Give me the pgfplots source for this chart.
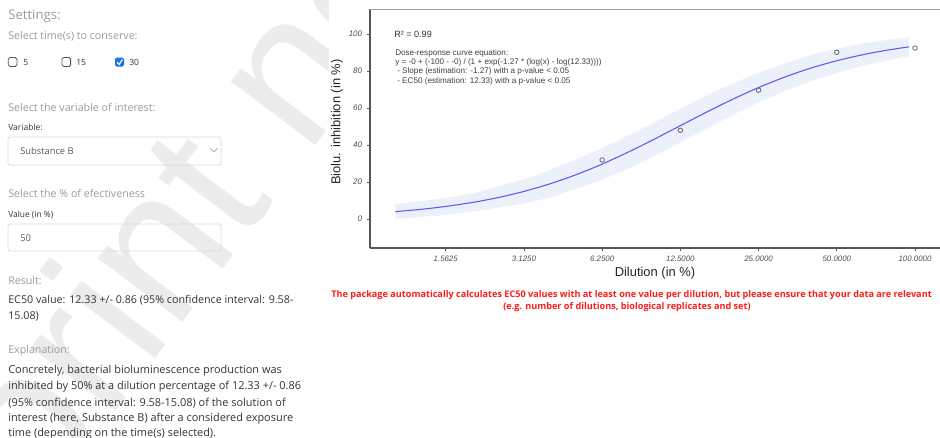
\documentclass[border=0pt]{standalone}
\usepackage{pgfplots}
\pgfplotsset{compat=1.18}
\usepackage{fontspec}
\setmainfont{Liberation Sans}
\newfontfamily\os{Open Sans}
\definecolor{hd}{HTML}{9A9A9A}
\definecolor{bd}{HTML}{333333}
\definecolor{bandc}{HTML}{EBF0FA}
\definecolor{curvec}{HTML}{5A5AF5}
\definecolor{ptc}{HTML}{6A6A6A}
\definecolor{axc}{HTML}{555555}
\definecolor{tlc}{HTML}{4D4D4D}
\definecolor{redc}{HTML}{FF1A1A}
\definecolor{cbblue}{HTML}{1A73E8}
\definecolor{boxb}{HTML}{D9D9D9}
\definecolor{boxd}{HTML}{555555}
\begin{document}
\begin{tikzpicture}
\useasboundingbox (0,0) rectangle (705pt,-327.75pt);
% watermark
\begin{scope}[x=0.75pt,y=-0.75pt]
\clip (0,0) rectangle (328,437);
\node[anchor=base west, rotate=53, inner sep=0, text=gray!15, font=\fontsize{150}{150}\selectfont] at (-147,760) {Preprint not peer reviewed};
\end{scope}
% chart
\begin{axis}[
  at={(277.5pt,-186pt)}, anchor=south west,
  scale only axis, width=427.5pt, height=179.25pt,
  xmode=log, log basis x=2,
  xmin=0.7988, xmax=124.8, ymin=-15.7, ymax=113.5,
  axis x line*=bottom, axis y line*=left,
  axis line style={draw=axc, line width=0.9pt},
  tick style={draw=axc, line width=0.6pt},
  tick align=outside, major tick length=2.4pt,
  xtick={1.5625,3.125,6.25,12.5,25,50,100},
  xticklabels={1.5625,3.1250,6.2500,12.5000,25.0000,50.0000,100.0000},
  ytick={0,20,40,60,80,100},
  yticklabels={0,20,40,60,80,100},
  /pgf/number format/assume math mode=true,
  x tick label style={font=\fontsize{5.9}{6.5}\selectfont\itshape, text=tlc},
  y tick label style={font=\fontsize{6}{6.5}\selectfont\itshape, text=tlc},
  xlabel={Dilution (in \%)}, ylabel={Biolu. inhibition (in \%)},
  xlabel style={font=\fontsize{9.7}{11}\selectfont, text=black!85, at={(axis description cs:0.5,-0.105)}, anchor=center},
  ylabel style={font=\fontsize{9.7}{11}\selectfont, text=black!85, at={(axis description cs:-0.058,0.527)}, anchor=center},
]
\addplot[fill=bandc, draw=none] coordinates {
(1,7.95) (1.5625,11.27) (2,14.03) (3.125,21.39) (4,26.82) (6.25,38.17) (8,45.6) (10,52.39) (12.5,59.43) (16,67.2) (20,73.39) (25,79.05) (32,84.55) (40,88.68) (50,92.04) (64,95.01) (80,97.0) (95,98.04)
(95,88.04) (80,86.0) (64,83.01) (50,79.04) (40,74.68) (32,69.55) (25,63.05) (20,56.39) (16,49.2) (12.5,41.43) (10,34.39) (8,27.6) (6.25,21.17) (4,11.82) (3.125,8.39) (2,4.03) (1.5625,2.27) (1,-0.05)
} -- cycle;
\addplot[curvec, line width=0.8pt, smooth] coordinates {
(1,3.95) (1.25,5.18) (1.5625,6.77) (2,9.03) (2.5,11.64) (3.125,14.89) (4,19.32) (5,24.11) (6.25,29.67) (8,36.60) (10,43.39) (12.5,50.43) (16,58.20) (20,64.89) (25,71.05) (32,77.05) (40,81.68) (50,85.54) (64,89.01) (80,91.49) (95,93.04)
};
\addplot[only marks, mark=o, mark size=1.7pt, mark options={draw=ptc, line width=0.6pt}] coordinates {
(6.25,31.9) (12.5,47.9) (25,69.6) (50,90.1) (100,92.4)
};
\draw[gray!75, line width=1pt] (rel axis cs:0,1) -- (rel axis cs:1.05,1);
\end{axis}
\begin{scope}[x=0.75pt,y=-0.75pt]
% chart annotations
\node[anchor=west, inner sep=0, font=\fontsize{6.8}{8}\selectfont, text=black!80] at (394,34) {R² = 0.99};
\begin{scope}[every node/.style={anchor=west, inner sep=0, font=\fontsize{6.1}{7}\selectfont, text=black!75}]
\node at (395,53) {Dose-response curve equation:};
\node at (395,62.3) {y = -0 + (-100 - -0) / (1 + exp(-1.27 * (log(x) - log(12.33))))};
\node at (397,71.6) {- Slope (estimation: -1.27) with a p-value < 0.05};
\node at (397,80.9) {- EC50 (estimation: 12.33) with a p-value < 0.05};
\end{scope}
% red note
\node[anchor=west, inner sep=0, font=\os\bfseries\fontsize{6.85}{8}\selectfont, text=redc] at (331,295) {The package automatically calculates EC50 values with at least one value per dilution, but please ensure that your data are relevant};
\node[anchor=center, inner sep=0, font=\os\bfseries\fontsize{6.85}{8}\selectfont, text=redc] at (627,307.5) {(e.g. number of dilutions, biological replicates and set)};
% left panel
\begin{scope}[every node/.style={anchor=west, inner sep=0}]
\node[font=\os\fontsize{9.9}{11}\selectfont, text=hd] at (8,16) {Settings:};
\node[font=\os\fontsize{8}{9}\selectfont, text=hd] at (8,36) {Select time(s) to conserve:};
\node[font=\os\fontsize{6.4}{8}\selectfont, text=bd] at (23,62) {5};
\node[font=\os\fontsize{6.4}{8}\selectfont, text=bd] at (76,62) {15};
\node[font=\os\fontsize{6.4}{8}\selectfont, text=bd] at (129,62) {30};
\node[font=\os\fontsize{8}{9}\selectfont, text=hd] at (8,107) {Select the variable of interest:};
\node[font=\os\fontsize{6.4}{8}\selectfont, text=bd] at (8,127) {Variable:};
\node[font=\os\fontsize{7}{8}\selectfont, text=black!65] at (20,151) {Substance B};
\node[font=\os\fontsize{8}{9}\selectfont, text=hd] at (8,193) {Select the \% of efectiveness};
\node[font=\os\fontsize{6.3}{8}\selectfont, text=bd] at (8,215) {Value (in \%)};
\node[font=\os\fontsize{7}{8}\selectfont, text=black!65] at (20,238) {50};
\node[font=\os\fontsize{8}{9}\selectfont, text=hd] at (8,281) {Result:};
\node[font=\os\fontsize{8.05}{10}\selectfont, text=bd] at (8,300) {EC50 value: 12.33 +/- 0.86 (95\% confidence interval: 9.58-};
\node[font=\os\fontsize{8.05}{10}\selectfont, text=bd] at (8,316) {15.08)};
\node[font=\os\fontsize{8}{9}\selectfont, text=hd] at (8,351) {Explanation:};
\node[font=\os\fontsize{8.2}{10}\selectfont, text=bd] at (8,371) {Concretely, bacterial bioluminescence production was};
\node[font=\os\fontsize{8.2}{10}\selectfont, text=bd] at (8,387) {inhibited by 50\% at a dilution percentage of 12.33 +/- 0.86};
\node[font=\os\fontsize{8.2}{10}\selectfont, text=bd] at (8,403) {(95\% confidence interval: 9.58-15.08) of the solution of};
\node[font=\os\fontsize{8.2}{10}\selectfont, text=bd] at (8,419) {interest (here, Substance B) after a considered exposure};
\node[font=\os\fontsize{8.2}{10}\selectfont, text=bd] at (8,434) {time (depending on the time(s) selected).};
\end{scope}
% checkboxes
\draw[boxd, line width=0.6pt, rounded corners=1.2pt] (8.3,57.5) rectangle (16.9,66.5);
\draw[boxd, line width=0.6pt, rounded corners=1.2pt] (62,57.5) rectangle (70.6,66.5);
\fill[cbblue, rounded corners=1.2pt] (115,57.5) rectangle (124,66.5);
\draw[white, line width=0.9pt] (117,62.3) -- (119.2,64.4) -- (122.3,59.6);
% select and input boxes
\draw[boxb, line width=0.6pt, rounded corners=1.5pt] (8,137) rectangle (221,165);
\draw[gray!70, line width=0.6pt] (210.5,148.5) -- (214,151.8) -- (217.5,148.5);
\draw[boxb, line width=0.6pt, rounded corners=1.5pt] (8,224) rectangle (221,251);
\end{scope}
\end{tikzpicture}
\end{document}
